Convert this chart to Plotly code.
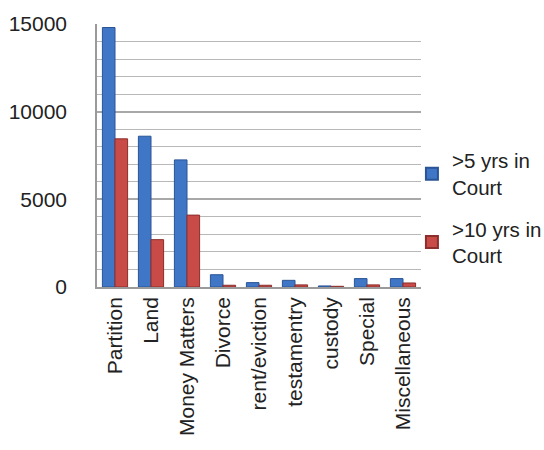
import plotly.graph_objects as go

categories = ["Partition", "Land", "Money Matters", "Divorce", "rent/eviction",
              "testamentry", "custody", "Special", "Miscellaneous"]
over5 = [14800, 8600, 7250, 700, 250, 380, 60, 480, 480]
over10 = [8450, 2700, 4100, 100, 100, 120, 40, 120, 230]
series_names = [">5 yrs in<br>Court", ">10 yrs in<br>Court"]
ytick_vals = [0, 5000, 10000, 15000]
ytick_text = ["0", "5000", "10000", "15000"]

fig = go.Figure()
fig.add_trace(go.Bar(x=categories, y=over5, name=series_names[0], legendgroup="g1",
                     marker=dict(color="#3f76c6", line=dict(color="#2a5496", width=1))))
fig.add_trace(go.Bar(x=categories, y=over10, name=series_names[1], legendgroup="g2",
                     marker=dict(color="#c84b48", line=dict(color="#8c2e2c", width=1))))

font = "Liberation Sans, Arial, sans-serif"
fig.update_layout(
    width=544, height=450,
    margin=dict(l=97, r=123, t=24, b=163, autoexpand=False),
    paper_bgcolor="white", plot_bgcolor="white",
    barmode="group", bargap=0.3, bargroupgap=0,
    font=dict(family=font, size=21, color="#222"),
    legend=dict(x=0.972, xanchor="left", y=0.30, yanchor="middle",
                font=dict(size=20.5, color="#222"), itemsizing="constant",
                itemwidth=30, tracegroupgap=12, traceorder="grouped",
                bgcolor="rgba(0,0,0,0)"),
    showlegend=True,
)
fig.update_xaxes(tickangle=-90, showline=True, linecolor="#9a9a9a", linewidth=1.5,
                 tickfont=dict(size=21), ticks="", mirror=False)
fig.update_yaxes(range=[0, 15000], tickvals=ytick_vals, ticktext=ytick_text, showgrid=True,
                 gridcolor="#a8a8a8", gridwidth=1.5,
                 minor=dict(dtick=1000, showgrid=True, gridcolor="#b8b8b8", gridwidth=1.2),
                 showline=True, linecolor="#9a9a9a", linewidth=1.5,
                 ticks="", tickfont=dict(size=21), ticklabelstandoff=24, zeroline=False)
fig.write_html("out.html")
